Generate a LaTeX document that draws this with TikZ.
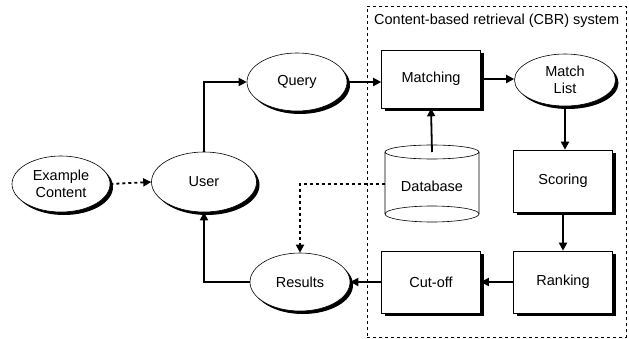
\documentclass[tikz,border=0pt]{standalone}
\usepackage{fontspec}
\setmainfont{Liberation Sans}
\usetikzlibrary{shapes.geometric,shadows,arrows.meta}
\begin{document}
\begin{tikzpicture}[x=1pt,y=-1pt,
  font=\fontsize{14.5}{16.5}\selectfont,
  shad/.style={drop shadow={shadow xshift=3pt,shadow yshift=-3pt,fill=black,opacity=1}},
  ell/.style={ellipse,draw,line width=0.6pt,fill=white,shad,inner sep=0pt,align=center},
  boxn/.style={rectangle,draw,line width=0.6pt,fill=white,shad,minimum width=99pt,minimum height=62pt},
  conn/.style={line width=1.8pt,-{Triangle[length=8pt,width=8pt]}},
  dotl/.style={line width=1.8pt,dash pattern=on 3pt off 3pt,-{Triangle[length=8pt,width=8pt]}},
]
\useasboundingbox (0,0) rectangle (629,339);
% system frame
\node[draw,line width=0.6pt,dash pattern=on 3pt off 3pt,minimum width=259pt,minimum height=331pt,inner sep=0pt] (sys) at (496.5,171.5) {};
\node[anchor=west,inner sep=0pt] (title) at (374,21) {Content-based retrieval (CBR) system};
% nodes
\node[ell,minimum width=98pt,minimum height=56pt] (ex) at (61,184) {Example\\Content};
\node[ell,minimum width=105pt,minimum height=60pt] (user) at (204,182) {User};
\node[ell,minimum width=100pt,minimum height=58pt] (query) at (297,82) {Query};
\node[ell,minimum width=100pt,minimum height=58pt] (results) at (300,282) {Results};
\node[ell,minimum width=101pt,minimum height=52pt] (ml) at (565,80) {Match\\List};
\node[boxn,minimum width=99pt,minimum height=58pt] (match) at (431,79) {Matching};
\node[boxn] (scor) at (563,181) {Scoring};
\node[boxn] (rank) at (563,282) {Ranking};
\node[boxn] (cut) at (431,282) {Cut-off};
% database cylinder
\draw[line width=0.6pt,fill=white] (385,152) -- (385,214) arc[start angle=180,end angle=0,x radius=47,y radius=8] -- (479,152) arc[start angle=0,end angle=-180,x radius=47,y radius=7] -- cycle;
\draw[line width=0.6pt] (385,152) arc[start angle=180,end angle=0,x radius=47,y radius=7];
\draw[line width=0.6pt] (385,214) arc[start angle=180,end angle=360,x radius=47,y radius=8];
\node (db) at (432,186) {Database};
\coordinate (dbtop) at (432,152);
\coordinate (dbleft) at (385,184);
% connectors
\draw[conn] (user.north) |- (query.west);
\draw[conn] (query.east) -- (query.east -| match.west);
\draw[conn] (match.east) -- (match.east -| ml.west);
\draw[conn] (ml.south) -- (ml.south |- scor.north);
\draw[conn] (scor.south) -- (rank.north);
\draw[conn] (rank.west) -- (cut.east);
\draw[conn] (cut.west) -- (results.east);
\draw[conn] (results.west) -| (user.south);
\draw[conn] (dbtop) -- (match.south);
\draw[dotl] (ex.east) -- (user.west);
\draw[dotl] (dbleft) -| (results.north);
\end{tikzpicture}
\end{document}
